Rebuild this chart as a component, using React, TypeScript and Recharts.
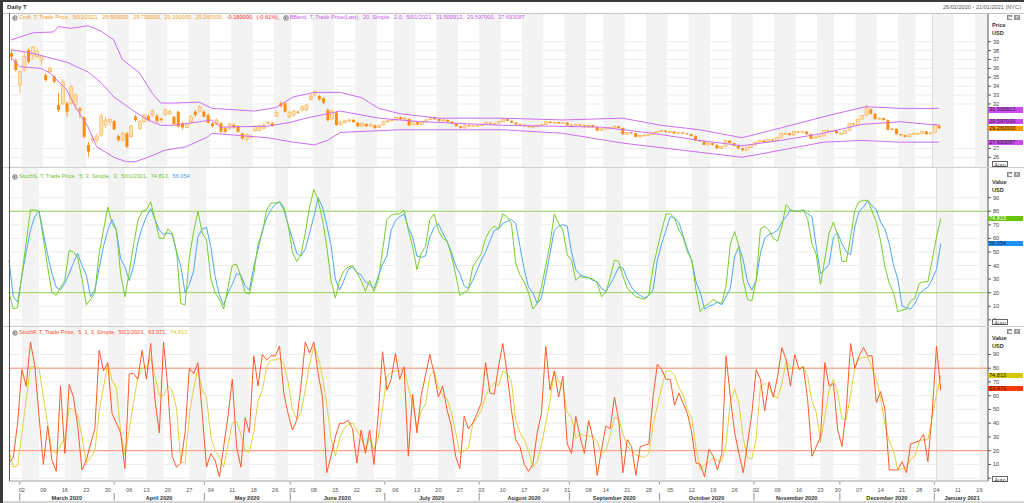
import React from 'react';
import {
  ComposedChart, Line, Bar, XAxis, YAxis, CartesianGrid,
  ReferenceArea, ReferenceLine,
} from 'recharts';

const FONT = '"Liberation Sans", Arial, sans-serif';
const FS = 5.6;

// trading days on the axis (weekends + NYSE holidays skipped)
const START = '2020-02-26';
const END = '2021-01-21';
const HOLIDAYS = ['2020-04-10', '2020-05-25', '2020-07-03', '2020-09-07', '2020-11-26', '2020-12-25', '2021-01-01', '2021-01-18'];
const MONTHS = ['January', 'February', 'March', 'April', 'May', 'June', 'July', 'August', 'September', 'October', 'November', 'December'];

// candles, one per trading day from 26/02/2020 to 5/01/2021
const candleOpen = [37.69, 36.87, 34.13, 35.82, 38.07, 37.5, 37.32, 36.94, 35.25, 35.63, 35.07, 31.88, 32.07, 32.07, 32.07, 31.88, 31.5, 30.49, 27.38, 27.94, 27.94, 28.5, 29.63, 30.0, 30.08, 28.39, 27.94, 28.69, 28.32, 30.57, 29.25, 30.0, 30.64, 30.75, 30.64, 30.34, 30.87, 30.87, 30.57, 31.13, 29.82, 29.37, 30.0, 31.13, 31.2, 31.13, 30.75, 29.82, 29.74, 29.82, 29.25, 29.25, 29.63, 29.52, 28.69, 28.02, 28.24, 28.99, 28.99, 29.25, 29.82, 29.82, 30.64, 32.07, 32.07, 30.57, 30.75, 31.13, 31.32, 31.32, 32.52, 33.0, 32.89, 32.63, 31.32, 30.38, 31.02,
  29.7, 29.9, 30.15, 30.2, 29.9, 29.5, 29.75, 29.5, 29.6, 29.35,
  29.65, 30.0, 30.15, 30.2, 30.5, 30.3, 30.3, 29.65, 29.95, 29.7,
  30.0, 30.25, 30.5, 30.3, 30.1, 30.2, 30.0, 29.8, 29.5, 29.3,
  29.6, 29.5, 29.55, 29.6, 29.7, 29.9, 29.8, 29.85, 30.0, 30.3,
  30.1, 29.9, 29.7, 29.65, 29.5, 29.4, 29.45, 29.6, 29.7, 30.0,
  29.85, 29.95, 29.8, 29.9, 29.6, 29.5, 29.7, 29.6, 29.4, 29.6,
  29.4, 29.0, 29.2, 29.35, 29.3, 29.5, 29.3, 28.6, 28.8, 28.7,
  28.3, 28.5, 28.5, 28.55, 28.75, 28.9, 29.0, 28.9, 28.9, 28.7,
  28.8, 28.7, 28.6, 28.4, 27.9, 27.8, 27.4, 27.6, 27.4, 27.0,
  27.2, 27.9, 27.6, 27.3, 27.0, 26.8, 27.1, 27.4, 27.7, 27.9,
  27.7, 28.0, 27.9, 28.2, 28.7, 28.7, 28.5, 28.9, 28.8, 28.9,
  28.6, 28.1, 28.3, 28.4, 29.0, 28.9, 29.0, 28.7, 28.7, 29.0,
  29.8, 29.7, 30.3, 30.7, 31.4, 30.9, 30.3, 30.4, 30.2, 29.1,
  29.2, 28.6, 28.5, 28.3, 28.6, 28.7, 28.7, 28.9, 28.6, 28.8,
  29.5];
const candleHigh = [38.07, 37.13, 35.82, 37.69, 38.25, 38.52, 38.25, 37.5, 35.44, 36.19, 35.25, 33.19, 34.77, 32.25, 34.13, 33.19, 31.69, 30.57, 27.75, 28.5, 28.69, 30.94, 30.57, 30.38, 30.19, 28.58, 28.88, 28.88, 29.63, 30.75, 30.19, 30.94, 30.87, 31.39, 30.87, 30.45, 31.5, 31.32, 30.64, 31.24, 30.0, 29.82, 30.75, 31.32, 31.88, 31.32, 30.94, 30.0, 30.38, 30.0, 29.44, 29.89, 29.82, 29.63, 28.77, 28.69, 28.5, 29.63, 29.7, 29.82, 30.08, 29.97, 31.24, 32.25, 32.14, 31.24, 31.32, 31.24, 31.88, 32.0, 33.19, 33.57, 33.0, 32.74, 31.5, 31.39, 31.13,
  30.15, 30.25, 30.35, 30.3, 29.95, 29.9, 29.8, 29.8, 29.65, 29.7,
  30.1, 30.2, 30.3, 30.6, 30.55, 30.5, 30.35, 30.1, 30.0, 30.1,
  30.3, 30.6, 30.55, 30.35, 30.3, 30.25, 30.05, 29.85, 29.55, 29.7,
  29.65, 29.65, 29.7, 29.8, 30.0, 29.95, 29.9, 30.1, 30.35, 30.35,
  30.15, 29.95, 29.8, 29.7, 29.55, 29.5, 29.65, 29.75, 30.05, 30.05,
  30.0, 30.0, 29.95, 29.95, 29.7, 29.75, 29.75, 29.65, 29.65, 29.65,
  29.45, 29.25, 29.4, 29.4, 29.55, 29.55, 29.35, 28.85, 28.85, 28.75,
  28.55, 28.6, 28.6, 28.8, 28.95, 29.1, 29.05, 29.0, 28.95, 28.85,
  28.85, 28.75, 28.65, 28.45, 28.0, 27.85, 27.7, 27.65, 27.45, 27.25,
  27.95, 27.95, 27.65, 27.35, 27.05, 27.15, 27.45, 27.8, 28.0, 27.95,
  28.05, 28.05, 28.25, 28.75, 28.8, 28.75, 28.95, 28.95, 28.95, 28.95,
  28.65, 28.35, 28.45, 29.05, 29.05, 29.05, 29.05, 28.8, 29.05, 29.85,
  29.85, 30.35, 30.75, 31.9, 31.5, 30.95, 30.5, 30.45, 30.25, 29.3,
  29.25, 28.65, 28.55, 28.65, 28.8, 28.8, 28.95, 28.95, 28.85, 29.85,
  29.75];
const candleLow = [36.94, 35.63, 33.19, 35.63, 36.56, 36.94, 37.13, 36.38, 34.5, 35.44, 34.32, 31.13, 31.88, 30.57, 31.88, 31.32, 30.38, 28.13, 26.07, 27.57, 27.57, 28.32, 29.25, 29.63, 29.07, 27.75, 27.75, 27.0, 28.2, 30.0, 29.07, 29.82, 30.0, 30.57, 29.89, 30.0, 30.64, 30.75, 29.63, 29.37, 29.14, 29.25, 29.82, 30.57, 31.02, 30.49, 29.82, 29.37, 29.63, 28.77, 28.69, 29.07, 29.22, 28.77, 27.94, 27.75, 28.13, 28.88, 28.9, 29.14, 29.7, 29.44, 30.49, 31.62, 31.02, 30.38, 30.57, 30.9, 31.13, 31.2, 32.37, 32.82, 32.37, 31.99, 30.0, 30.19, 29.52,
  29.55, 29.8, 29.95, 29.85, 29.4, 29.45, 29.4, 29.45, 29.2, 29.3,
  29.6, 29.85, 30.0, 30.15, 30.2, 30.2, 29.55, 29.6, 29.6, 29.65,
  29.95, 30.2, 30.2, 30.0, 30.05, 29.95, 29.75, 29.45, 29.2, 29.25,
  29.4, 29.45, 29.45, 29.5, 29.65, 29.7, 29.7, 29.8, 29.95, 30.05,
  29.85, 29.65, 29.6, 29.45, 29.35, 29.35, 29.4, 29.55, 29.65, 29.8,
  29.8, 29.75, 29.75, 29.55, 29.45, 29.45, 29.55, 29.35, 29.35, 29.35,
  28.95, 28.95, 29.15, 29.2, 29.25, 29.25, 28.55, 28.5, 28.6, 28.25,
  28.25, 28.4, 28.4, 28.5, 28.7, 28.85, 28.8, 28.8, 28.65, 28.65,
  28.6, 28.55, 28.35, 27.85, 27.75, 27.35, 27.35, 27.35, 26.95, 26.95,
  27.15, 27.55, 27.25, 26.95, 26.7, 26.75, 27.05, 27.35, 27.65, 27.65,
  27.65, 27.85, 27.85, 28.15, 28.55, 28.45, 28.45, 28.7, 28.75, 28.55,
  28.05, 28.05, 28.2, 28.35, 28.8, 28.85, 28.65, 28.6, 28.65, 28.95,
  29.55, 29.65, 30.25, 30.6, 30.8, 30.25, 30.25, 30.1, 29.05, 29.05,
  28.55, 28.4, 28.25, 28.25, 28.55, 28.6, 28.65, 28.55, 28.55, 28.75,
  29.19];
const candleClose = [37.32, 35.82, 35.63, 37.32, 36.75, 38.37, 37.88, 37.32, 34.69, 36.0, 34.5, 31.32, 34.5, 31.13, 33.94, 33.0, 31.24, 28.32, 26.63, 28.13, 28.39, 30.64, 30.19, 30.27, 29.14, 27.94, 28.69, 27.19, 29.52, 30.19, 30.0, 30.75, 30.19, 31.2, 30.08, 30.19, 31.32, 31.13, 29.74, 29.44, 29.37, 29.74, 30.57, 30.75, 31.69, 30.57, 29.89, 29.52, 30.19, 28.88, 28.88, 29.74, 29.37, 28.88, 28.13, 28.58, 28.39, 29.52, 29.52, 29.63, 29.97, 29.52, 31.02, 31.77, 31.13, 31.02, 31.2, 31.02, 31.69, 31.88, 32.89, 33.38, 32.52, 32.14, 30.19, 31.2, 29.63,
  29.95, 30.1, 30.2, 29.95, 29.5, 29.8, 29.5, 29.7, 29.3, 29.6,
  30.0, 30.1, 30.2, 30.5, 30.3, 30.4, 29.6, 30.0, 29.7, 30.0,
  30.2, 30.5, 30.3, 30.1, 30.2, 30.0, 29.8, 29.5, 29.3, 29.6,
  29.5, 29.55, 29.6, 29.7, 29.9, 29.8, 29.8, 30.0, 30.3, 30.1,
  29.9, 29.7, 29.65, 29.5, 29.4, 29.45, 29.6, 29.7, 30.0, 29.85,
  29.95, 29.8, 29.9, 29.6, 29.5, 29.7, 29.6, 29.4, 29.6, 29.4,
  29.0, 29.2, 29.35, 29.3, 29.5, 29.3, 28.6, 28.8, 28.7, 28.3,
  28.5, 28.5, 28.55, 28.75, 28.9, 29.0, 28.9, 28.9, 28.7, 28.8,
  28.7, 28.6, 28.4, 27.9, 27.8, 27.4, 27.6, 27.4, 27.0, 27.2,
  27.9, 27.6, 27.3, 27.0, 26.8, 27.1, 27.4, 27.7, 27.9, 27.7,
  28.0, 27.9, 28.2, 28.7, 28.7, 28.5, 28.9, 28.8, 28.9, 28.6,
  28.1, 28.3, 28.4, 29.0, 28.9, 29.0, 28.7, 28.7, 29.0, 29.8,
  29.7, 30.3, 30.7, 31.6, 30.9, 30.3, 30.4, 30.2, 29.1, 29.2,
  28.6, 28.5, 28.3, 28.6, 28.7, 28.7, 28.9, 28.6, 28.76, 29.7,
  29.26];

// Bollinger band vertices [trading day, price]
const bbUpper: [number, number][] = [[0, 39.2], [5, 40.0], [10, 40.1], [11, 40.7], [14, 40.5], [18, 40.8], [21, 40.2], [24, 39.2], [26, 37.0], [30, 35.5], [33, 33.2], [35, 32.1], [38, 32.1], [44, 32.2], [47, 31.5], [57, 31.2], [62, 31.6], [66, 32.8], [71, 33.3], [77, 33.3], [82, 32.7], [86, 31.5], [91, 30.9], [100, 30.4], [115, 30.4], [129, 30.2], [143, 30.4], [152, 29.6], [161, 29.1], [171, 28.2], [180, 29.3], [192, 30.8], [200, 31.7], [208, 31.5], [217, 31.5]];
const bbMiddle: [number, number][] = [[0, 38.1], [5, 37.7], [13, 36.7], [18, 35.6], [21, 34.4], [24, 32.8], [29, 31.1], [32, 30.2], [35, 29.6], [38, 29.6], [44, 30.0], [47, 30.2], [49, 29.4], [60, 29.5], [65, 29.9], [69, 30.4], [77, 31.2], [86, 30.4], [96, 30.0], [115, 29.6], [138, 29.4], [150, 28.7], [161, 27.9], [171, 27.3], [180, 27.9], [190, 28.7], [199, 29.7], [208, 30.0], [217, 29.6]];
const bbLower: [number, number][] = [[0, 37.2], [2, 36.2], [7, 36.0], [9, 35.5], [13, 33.6], [15, 31.7], [18, 29.4], [20, 27.2], [24, 26.0], [27, 25.5], [29, 25.5], [32, 26.0], [36, 26.8], [41, 27.2], [46, 28.3], [47, 28.7], [52, 28.5], [60, 28.2], [66, 27.7], [71, 27.4], [74, 27.9], [77, 28.8], [91, 29.1], [115, 29.1], [129, 28.7], [143, 27.6], [157, 26.8], [171, 26.0], [180, 26.8], [190, 27.7], [199, 27.9], [208, 27.7], [217, 27.7]];

// StochS %K (green) == StochF %D (yellow)
const stochSlowK: [number, number][] = [[0, 20], [1, 8], [2, 9], [5, 81], [6, 81], [7, 80], [9, 39], [10, 20], [11, 18], [12, 24], [13, 29], [14, 51], [15, 50], [16, 46], [17, 30], [18, 11], [19, 15], [20, 20], [21, 49], [22, 66], [23, 83], [24, 71], [25, 66], [26, 34], [27, 17], [28, 35], [29, 55], [30, 73], [31, 80], [32, 81], [33, 87], [34, 74], [35, 60], [36, 60], [37, 67], [38, 64], [39, 51], [40, 12], [41, 11], [42, 46], [43, 65], [44, 80], [45, 64], [46, 59], [47, 30], [48, 20], [49, 15], [50, 8], [51, 24], [52, 40], [53, 41], [54, 32], [55, 20], [56, 19], [57, 34], [58, 56], [59, 64], [60, 81], [61, 86], [62, 86], [63, 87], [64, 83], [65, 70], [66, 50], [67, 43], [68, 48], [69, 64], [70, 83], [71, 96], [72, 88], [73, 74], [74, 54], [75, 29], [76, 16], [77, 29], [78, 36], [79, 39], [80, 40], [81, 35], [82, 29], [83, 21], [84, 29], [85, 21], [86, 29], [87, 51], [88, 74], [89, 77], [90, 78], [91, 78], [92, 81], [93, 66], [94, 54], [95, 37], [96, 49], [97, 54], [98, 74], [99, 78], [100, 66], [101, 60], [102, 58], [103, 48], [104, 34], [105, 18], [106, 20], [107, 22], [108, 39], [110, 49], [111, 60], [112, 66], [113, 69], [114, 67], [115, 78], [116, 76], [117, 71], [118, 42], [119, 33], [120, 28], [121, 20], [122, 8], [123, 12], [124, 24], [125, 40], [126, 56], [127, 78], [128, 71], [129, 66], [130, 48], [131, 44], [132, 29], [133, 32], [134, 31], [135, 31], [136, 30], [137, 27], [138, 17], [139, 20], [140, 31], [141, 44], [142, 43], [143, 32], [144, 23], [145, 20], [146, 17], [147, 16], [148, 15], [149, 18], [150, 39], [152, 66], [153, 78], [154, 78], [155, 75], [156, 66], [157, 61], [158, 50], [159, 44], [160, 22], [161, 6], [162, 10], [163, 12], [164, 15], [165, 13], [166, 12], [167, 25], [168, 56], [169, 65], [170, 54], [171, 29], [172, 15], [173, 14], [174, 29], [175, 67], [176, 69], [177, 66], [178, 60], [179, 58], [180, 69], [181, 85], [182, 81], [183, 80], [184, 80], [185, 81], [186, 74], [187, 56], [188, 48], [189, 26], [190, 45], [191, 64], [192, 72], [193, 62], [194, 43], [195, 43], [196, 61], [197, 81], [198, 87], [199, 88], [200, 88], [201, 80], [202, 72], [203, 58], [204, 39], [205, 27], [206, 20], [207, 6], [208, 7], [209, 8], [210, 14], [211, 16], [212, 27], [213, 28], [214, 28], [215, 44], [216, 61], [217, 74.813]];
// StochS %D (blue)
const stochSlowD: [number, number][] = [[0, 44], [1, 17], [2, 13], [3, 32], [4, 50], [5, 66], [6, 76], [7, 80], [8, 64], [9, 48], [10, 34], [11, 24], [12, 22], [13, 27], [14, 34], [15, 42], [16, 49], [17, 40], [18, 33], [19, 17], [20, 22], [21, 38], [22, 54], [23, 66], [24, 74], [25, 66], [26, 45], [27, 39], [28, 29], [29, 39], [30, 57], [31, 68], [32, 76], [33, 82], [34, 74], [35, 66], [36, 63], [37, 64], [38, 63], [39, 50], [40, 40], [41, 20], [42, 26], [43, 36], [44, 61], [45, 67], [46, 68], [47, 54], [48, 32], [49, 18], [50, 11], [51, 20], [52, 26], [53, 34], [54, 33], [55, 25], [56, 22], [57, 39], [58, 52], [59, 66], [60, 75], [61, 81], [62, 85], [63, 87], [64, 81], [65, 70], [66, 60], [67, 49], [68, 47], [69, 52], [70, 64], [71, 76], [72, 90], [73, 83], [74, 70], [75, 55], [76, 30], [77, 22], [78, 29], [79, 37], [80, 39], [81, 35], [82, 33], [83, 28], [84, 26], [85, 23], [86, 32], [87, 41], [88, 47], [89, 66], [90, 73], [91, 76], [92, 78], [93, 68], [94, 61], [95, 47], [96, 46], [97, 47], [98, 61], [99, 68], [100, 71], [101, 64], [102, 58], [103, 50], [104, 40], [105, 34], [106, 25], [107, 23], [108, 29], [110, 44], [111, 50], [112, 58], [113, 66], [114, 67], [115, 71], [117, 74], [118, 71], [119, 54], [120, 37], [121, 24], [122, 20], [123, 12], [124, 16], [125, 32], [126, 49], [127, 66], [128, 69], [129, 70], [130, 69], [131, 50], [132, 37], [133, 33], [134, 32], [135, 31], [136, 29], [137, 28], [138, 23], [139, 21], [140, 26], [141, 32], [142, 39], [143, 38], [144, 30], [145, 24], [146, 20], [147, 18], [148, 16], [149, 18], [150, 22], [151, 44], [152, 56], [153, 66], [154, 76], [155, 75], [156, 72], [157, 62], [158, 52], [159, 44], [160, 28], [161, 20], [162, 8], [163, 10], [164, 11], [165, 13], [166, 11], [167, 17], [168, 23], [169, 47], [170, 54], [171, 44], [172, 28], [173, 22], [174, 29], [175, 49], [176, 60], [177, 63], [178, 64], [179, 66], [180, 72], [181, 76], [182, 81], [183, 80], [184, 80], [185, 81], [186, 78], [187, 76], [188, 54], [189, 34], [190, 37], [191, 41], [192, 61], [193, 64], [194, 56], [195, 50], [196, 48], [197, 69], [198, 80], [199, 83], [200, 88], [201, 84], [202, 81], [203, 72], [204, 67], [205, 56], [206, 40], [207, 30], [208, 10], [209, 9], [210, 8], [211, 12], [212, 19], [213, 22], [214, 24], [215, 30], [216, 37], [217, 56.054]];
// StochF %K (red)
const stochFastK: [number, number][] = [[0, 11], [1, 15], [2, 40], [3, 79], [4, 67], [5, 99], [6, 82], [7, 45], [8, 10], [9, 38], [10, 13], [11, 5], [12, 67], [13, 18], [14, 68], [15, 59], [16, 38], [17, 6], [18, 13], [19, 25], [20, 36], [21, 93], [22, 78], [23, 84], [24, 47], [25, 40], [26, 33], [27, 7], [28, 76], [29, 76], [30, 72], [31, 93], [32, 72], [33, 98], [34, 57], [35, 33], [36, 99], [37, 65], [38, 16], [39, 8], [40, 11], [41, 33], [42, 80], [43, 76], [44, 84], [45, 47], [46, 8], [47, 18], [48, 13], [49, 1], [50, 23], [51, 45], [52, 72], [53, 23], [54, 8], [55, 44], [56, 33], [57, 89], [58, 67], [59, 90], [60, 86], [61, 89], [62, 89], [63, 96], [64, 62], [65, 47], [66, 35], [67, 42], [68, 67], [69, 99], [70, 91], [71, 99], [72, 76], [73, 59], [74, 4], [75, 16], [76, 30], [77, 40], [78, 40], [79, 42], [80, 36], [81, 11], [82, 35], [83, 18], [84, 35], [85, 10], [86, 47], [87, 92], [88, 64], [89, 72], [90, 91], [91, 72], [92, 81], [93, 16], [94, 61], [95, 33], [96, 60], [97, 75], [98, 90], [99, 76], [100, 59], [101, 67], [102, 50], [103, 38], [104, 16], [105, 7], [106, 45], [107, 36], [108, 40], [109, 47], [110, 55], [111, 84], [112, 62], [113, 61], [114, 81], [115, 98], [116, 76], [117, 50], [118, 28], [119, 23], [120, 10], [121, 5], [122, 10], [123, 33], [124, 47], [125, 96], [126, 64], [127, 78], [128, 59], [129, 74], [130, 25], [131, 18], [132, 45], [133, 30], [134, 18], [135, 42], [136, 29], [137, 2], [138, 21], [139, 38], [140, 36], [141, 59], [142, 42], [143, 4], [144, 28], [145, 23], [146, 2], [147, 23], [149, 25], [150, 59], [151, 83], [152, 79], [153, 72], [154, 72], [155, 53], [156, 62], [158, 47], [159, 33], [160, 11], [161, 10], [162, 1], [163, 21], [164, 16], [165, 6], [166, 18], [167, 89], [168, 59], [169, 33], [170, 18], [171, 4], [173, 47], [174, 79], [175, 72], [176, 49], [177, 70], [178, 59], [179, 74], [180, 95], [181, 86], [182, 67], [183, 90], [184, 79], [185, 81], [186, 57], [187, 16], [189, 30], [190, 84], [191, 67], [192, 69], [193, 35], [194, 23], [195, 50], [196, 98], [197, 80], [198, 89], [199, 95], [200, 89], [201, 89], [202, 55], [203, 63], [204, 50], [205, 6], [207, 6], [208, 12], [209, 4], [210, 25], [212, 27], [213, 32], [214, 12], [215, 47], [216, 96], [217, 63.971]];

// labels hidden behind the value badges are left out
const priceTicks = [26, 27, 32, 33, 34, 35, 36, 37, 38, 39];
const stochTicks = [0, 10, 20, 30, 40, 50, 60, 70, 80, 90];

// ---- build the day table ----
const dayList: string[] = (() => {
  const out: string[] = [];
  const d = new Date(START + 'T00:00:00Z');
  const end = new Date(END + 'T00:00:00Z');
  while (d <= end) {
    const iso = d.toISOString().slice(0, 10);
    const wd = d.getUTCDay();
    if (wd !== 0 && wd !== 6 && !HOLIDAYS.includes(iso)) out.push(iso);
    d.setUTCDate(d.getUTCDate() + 1);
  }
  return out;
})();

const toMap = (pairs: [number, number][]) => new Map(pairs.map(([k, v]) => [k, v]));
const mU = toMap(bbUpper), mM = toMap(bbMiddle), mL = toMap(bbLower);
const mSK = toMap(stochSlowK), mSD = toMap(stochSlowD), mFK = toMap(stochFastK);

const rows = dayList.map((iso, i) => ({
  i,
  iso,
  o: candleOpen[i] ?? null,
  h: candleHigh[i] ?? null,
  l: candleLow[i] ?? null,
  c: candleClose[i] ?? null,
  range: candleOpen[i] != null ? [candleLow[i], candleHigh[i]] : null,
  bbU: mU.get(i) ?? null,
  bbM: mM.get(i) ?? null,
  bbL: mL.get(i) ?? null,
  sk: mSK.get(i) ?? null,
  sd: mSD.get(i) ?? null,
  fk: mFK.get(i) ?? null,
}));

const MS_DAY = 86400000;
const MAR2 = Date.UTC(2020, 2, 2);
const weekOf = (iso: string) => {
  const t = Date.parse(iso + 'T00:00:00Z');
  const wd = new Date(t).getUTCDay();
  return Math.round((t - (wd - 1) * MS_DAY - MAR2) / (7 * MS_DAY));
};

// weekly bands + week-start ticks
const weeks: { w: number; a: number; b: number }[] = [];
rows.forEach((r) => {
  const w = weekOf(r.iso);
  const last = weeks[weeks.length - 1];
  if (last && last.w === w) last.b = r.i;
  else weeks.push({ w, a: r.i, b: r.i });
});
const shaded = weeks.filter((w) => w.w >= 0 && w.w % 2 === 0);
const weekStarts = weeks.filter((w) => w.w >= 0).map((w) => w.a);

// months
const months: { start: number; len: number; label: string; key: string }[] = [];
rows.forEach((r) => {
  const m = r.iso.slice(0, 7);
  const last = months[months.length - 1];
  if (last && last.key === m) last.len += 1;
  else months.push({ start: r.i, len: 1, label: `${MONTHS[+m.slice(5, 7) - 1]} ${m.slice(0, 4)}`, key: m });
});

const axisTicks = Array.from(new Set([...weekStarts, ...months.map((m) => m.start)])).sort((a, b) => a - b);
const BW = 979 / rows.length;
const yearStart = rows.find((r) => r.iso.startsWith('2021'))!.i;

function Candle(props: any) {
  const { x, y, width, height, payload } = props;
  if (!payload || payload.o == null) return null;
  const { o, h, l, c } = payload;
  const top = Math.min(y, y + height);
  const span = Math.abs(height);
  const k = h > l ? span / (h - l) : 0;
  const py = (v: number) => top + (h - v) * k;
  const cx = x + width / 2;
  const up = c >= o;
  const bTop = py(Math.max(o, c));
  const bBot = py(Math.min(o, c));
  const col = up ? '#fbb65a' : '#ff8c0a';
  return (
    <g>
      <line x1={cx} x2={cx} y1={top} y2={top + span} stroke={col} strokeWidth={0.9} />
      <rect x={x} y={bTop} width={width} height={Math.max(bBot - bTop, 0.9)}
        fill={up ? '#ffe2b6' : '#ff8c0a'} stroke={col} strokeWidth={up ? 0.7 : 0} />
    </g>
  );
}

function AxisTick(props: any) {
  const { x, y, payload } = props;
  const idx = payload.value;
  const out: any[] = [];
  if (weekStarts.includes(idx)) {
    out.push(
      <text key="d" x={x} y={y + 9} textAnchor="middle" dominantBaseline="central"
        fontSize={FS} fontFamily={FONT} fill="#555">{rows[idx].iso.slice(8, 10)}</text>,
    );
  }
  const m = months.find((mm) => mm.start === idx);
  if (m) {
    const bx = x - BW / 2;
    if (m.len > 5) {
      out.push(
        <text key="m" x={bx + (m.len * BW) / 2} y={y + 16.5} textAnchor="middle" dominantBaseline="central"
          fontSize={FS} fontWeight="bold" fontFamily={FONT} fill="#333">{m.label}</text>,
      );
    }
    if (idx > 0) {
      out.push(<line key="a" x1={bx} x2={bx} y1={y + 1} y2={y + 3.5} stroke="#777" strokeWidth={0.8} />);
      out.push(<line key="b" x1={bx} x2={bx} y1={y + 12} y2={y + 19.5} stroke="#777" strokeWidth={0.8} />);
    }
  }
  return <g>{out}</g>;
}

const tickStyle = { fontSize: FS, fill: '#444', fontFamily: FONT };

const shadeAreas = shaded.map((w) => (
  <ReferenceArea key={`s${w.a}`} x1={w.a} x2={w.b} fill="#f3f3f3" fillOpacity={1} stroke="none" ifOverflow="visible" />
));

type PanelDef = { top: number; height: number; dmin: number; dmax: number };
const TOP: PanelDef = { top: 13, height: 154, dmin: 24.91, dmax: 42.23 };
const MID: PanelDef = { top: 167, height: 159, dmin: -4.57, dmax: 112.6 };
const BOT: PanelDef = { top: 326, height: 155, dmin: -2.04, dmax: 110.7 };
const yOf = (p: PanelDef, v: number) => p.top + ((p.dmax - v) / (p.dmax - p.dmin)) * p.height;

function Badge({ p, v, text, bg, fg, dy = 0 }: { p: PanelDef; v: number; text: string; bg: string; fg: string; dy?: number }) {
  return (
    <div style={{
      position: 'absolute', left: 988, top: yOf(p, v) - 2.6 + dy, width: 34, height: 5.2,
      background: bg, color: fg, fontSize: FS, lineHeight: '5.2px', paddingLeft: 1, whiteSpace: 'nowrap',
    }}>{text}</div>
  );
}

function Icon() {
  return (
    <svg width={6} height={6} style={{ verticalAlign: 'middle', marginRight: 1 }}>
      <circle cx={3} cy={3} r={2.4} fill="#c8c8c8" stroke="#666" strokeWidth={0.6} />
      <path d="M1.8 3 L3 1.8 L3 4.2 Z" fill="#555" />
    </svg>
  );
}

function PanelButtons({ top }: { top: number }) {
  return (
    <>
      <div style={{ position: 'absolute', left: 1007, top, width: 5, height: 5, background: '#bbb', border: '0.5px solid #888', boxSizing: 'border-box' }}>
        <div style={{ position: 'absolute', left: 1, top: 1, width: 2.5, height: 2, background: '#fff' }} />
      </div>
      <div style={{ position: 'absolute', left: 1014, top, width: 6, height: 5, background: '#999', color: '#fff', fontSize: 5, lineHeight: '5px', textAlign: 'center' }}>×</div>
    </>
  );
}

function AutoBtn({ top }: { top: number }) {
  return (
    <div style={{ position: 'absolute', left: 992, top, width: 16, height: 6, border: '0.8px solid #666', background: '#fff', fontSize: FS, lineHeight: '6px', textAlign: 'center', color: '#333', boxSizing: 'border-box' }}>Auto</div>
  );
}

const AxisTitle = ({ top, a, b }: { top: number; a: string; b: string }) => (
  <div style={{ position: 'absolute', left: 992, top, fontSize: FS, fontWeight: 'bold', color: '#333', lineHeight: '7.5px' }}>
    <div>{a}</div><div>{b}</div>
  </div>
);

const legendStyle: React.CSSProperties = {
  position: 'absolute', left: 12, fontSize: FS, lineHeight: '6px', whiteSpace: 'pre', fontFamily: FONT,
};

export default function App() {
  const yAxisCommon = {
    orientation: 'right' as const, width: 36, allowDataOverflow: true, interval: 0 as const,
    tick: tickStyle, tickSize: 3, tickMargin: 2, axisLine: { stroke: '#555' }, tickLine: { stroke: '#555' },
  };
  const margin = { top: 0, right: 0, bottom: 0, left: 9 };
  return (
    <div style={{ position: 'absolute', left: 0, top: 0, width: 1024, height: 503, background: '#fff', overflow: 'hidden', fontFamily: FONT }}>
      {/* header */}
      <div style={{ position: 'absolute', left: 7, top: 4, fontSize: 6, fontWeight: 'bold', color: '#333' }}>Daily T</div>
      <div style={{ position: 'absolute', right: 3, top: 4, fontSize: FS, color: '#555' }}>26/02/2020 - 21/01/2021 (NYC)</div>

      {/* price panel */}
      <div style={{ position: 'absolute', left: 0, top: TOP.top }}>
        <ComposedChart width={1024} height={TOP.height} data={rows} margin={margin}>
          {shadeAreas}
          <CartesianGrid vertical={false} stroke="#ececec" />
          <XAxis dataKey="i" type="category" hide />
          <YAxis {...yAxisCommon} domain={[TOP.dmin, TOP.dmax]} ticks={priceTicks} />
          <ReferenceLine x={yearStart} position="start" stroke="#dddddd" />
          <Line dataKey="bbU" stroke="#cf6cf2" dot={false} connectNulls isAnimationActive={false} />
          <Line dataKey="bbM" stroke="#cf6cf2" dot={false} connectNulls isAnimationActive={false} />
          <Line dataKey="bbL" stroke="#cf6cf2" dot={false} connectNulls isAnimationActive={false} />
          <Bar dataKey="range" barSize={3} shape={<Candle />} isAnimationActive={false} />
        </ComposedChart>
      </div>

      {/* StochS panel */}
      <div style={{ position: 'absolute', left: 0, top: MID.top }}>
        <ComposedChart width={1024} height={MID.height} data={rows} margin={margin}>
          {shadeAreas}
          <CartesianGrid vertical={false} stroke="#ececec" />
          <XAxis dataKey="i" type="category" hide />
          <YAxis {...yAxisCommon} domain={[MID.dmin, MID.dmax]} ticks={stochTicks} />
          <ReferenceLine x={yearStart} position="start" stroke="#dddddd" />
          <ReferenceLine y={80} stroke="#95d65f" />
          <ReferenceLine y={20} stroke="#95d65f" />
          <Line dataKey="sd" stroke="#4aa8f5" dot={false} connectNulls isAnimationActive={false} />
          <Line dataKey="sk" stroke="#78cc2a" dot={false} connectNulls isAnimationActive={false} />
        </ComposedChart>
      </div>

      {/* StochF panel + date axis */}
      <div style={{ position: 'absolute', left: 0, top: BOT.top }}>
        <ComposedChart width={1024} height={503 - BOT.top} data={rows} margin={margin}>
          {shadeAreas}
          <CartesianGrid vertical={false} stroke="#ececec" />
          <XAxis dataKey="i" type="category" height={22} ticks={axisTicks} interval={0}
            tick={<AxisTick />} tickLine={false} tickSize={0} tickMargin={0} axisLine={{ stroke: '#aaa' }} />
          <YAxis {...yAxisCommon} domain={[BOT.dmin, BOT.dmax]} ticks={stochTicks} />
          <ReferenceLine x={yearStart} position="start" stroke="#dddddd" />
          <ReferenceLine y={80} stroke="#ff8f78" />
          <ReferenceLine y={20} stroke="#ff8f78" />
          <Line dataKey="sk" stroke="#e3d13a" dot={false} connectNulls isAnimationActive={false} />
          <Line dataKey="fk" stroke="#ff5a2a" dot={false} connectNulls isAnimationActive={false} />
        </ComposedChart>
      </div>

      {/* frame lines */}
      <div style={{ position: 'absolute', left: 3, top: 13, width: 1021, height: 1, background: '#c4c4c4' }} />
      <div style={{ position: 'absolute', left: 3, top: 167, width: 1021, height: 1, background: '#cfcfcf' }} />
      <div style={{ position: 'absolute', left: 3, top: 326, width: 1021, height: 1, background: '#cfcfcf' }} />
      <div style={{ position: 'absolute', left: 9, top: 13, width: 1, height: 468, background: '#555' }} />
      <div style={{ position: 'absolute', left: 0, top: 0, width: 1024, height: 2, background: '#3a3a3a' }} />
      <div style={{ position: 'absolute', left: 0, top: 0, width: 3, height: 503, background: '#3a3a3a' }} />
      <div style={{ position: 'absolute', left: 3, top: 501, width: 1021, height: 2, background: '#d6d6d6' }} />

      {/* panel legends */}
      <div style={{ ...legendStyle, top: 14 }}>
        <Icon /><span style={{ color: '#f59a16' }}>Cndl, T, Trade Price,  5/01/2021,  29.500000,  29.750000,  29.190000,  29.260000,  </span>
        <span style={{ color: '#ff2a1a' }}>-0.180000,  (-0.61%),  </span>
        <Icon /><span style={{ color: '#c25ae8' }}>BBand, T, Trade Price(Last),  20, Simple,  2.0,  5/01/2021,  31.500913,  29.597000,  27.693087</span>
      </div>
      <div style={{ ...legendStyle, top: 173 }}>
        <Icon /><span style={{ color: '#6cc21c' }}>StochS, T, Trade Price,  5, 3, Simple,  3,  5/01/2021,  74.813,  </span>
        <span style={{ color: '#3a9cf0' }}>56.054</span>
      </div>
      <div style={{ ...legendStyle, top: 329 }}>
        <Icon /><span style={{ color: '#ff4a1f' }}>StochF, T, Trade Price,  5, 1, 3, Simple,  5/01/2021,  63.971,  </span>
        <span style={{ color: '#d9c81e' }}>74.813</span>
      </div>

      {/* right axis furniture */}
      <AxisTitle top={22} a="Price" b="USD" />
      <AxisTitle top={179} a="Value" b="USD" />
      <AxisTitle top={335} a="Value" b="USD" />
      <PanelButtons top={15} />
      <PanelButtons top={172} />
      <PanelButtons top={329} />
      <Badge p={TOP} v={31.500913} text="31.500913" bg="#cc4cf2" fg="#222" dy={1.6} />
      <Badge p={TOP} v={29.597} text="29.597000" bg="#cc4cf2" fg="#222" dy={-4.2} />
      <Badge p={TOP} v={29.26} text="29.260000" bg="#ff9a00" fg="#222" dy={0.4} />
      <Badge p={TOP} v={27.693087} text="27.693087" bg="#cc4cf2" fg="#222" />
      <Badge p={MID} v={74.813} text="74.813" bg="#66c400" fg="#fff" />
      <Badge p={MID} v={56.054} text="56.054" bg="#1e90ff" fg="#222" />
      <Badge p={BOT} v={74.813} text="74.813" bg="#d6c800" fg="#222" />
      <Badge p={BOT} v={63.971} text="63.971" bg="#ff3a00" fg="#222" dy={-1.5} />
      <AutoBtn top={161} />
      <AutoBtn top={319} />
      <AutoBtn top={476} />
    </div>
  );
}
